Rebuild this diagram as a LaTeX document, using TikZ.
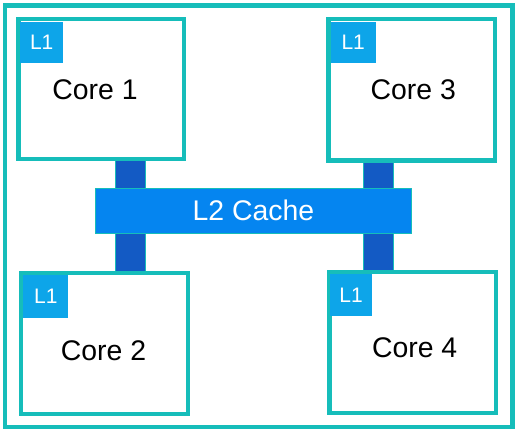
\documentclass[tikz,border=0pt]{standalone}
\usepackage{fontspec}
\setmainfont{Liberation Sans}
\definecolor{tealline}{HTML}{16BDBA}
\definecolor{lonec}{HTML}{0DA5E9}
\definecolor{ltwoc}{HTML}{0585F0}
\definecolor{linkc}{HTML}{135AC4}
\begin{document}
\begin{tikzpicture}[x=1pt,y=-1pt,
  frame/.style={draw=tealline, line width=4.3pt, inner sep=0pt, outer sep=0pt},
  corebox/.style={draw=tealline, line width=4.3pt, fill=white, inner sep=0pt, outer sep=0pt},
  lone/.style={fill=lonec, text=white, inner sep=0pt, outer sep=0pt, font=\fontsize{21}{21}\selectfont},
  ltwo/.style={fill=ltwoc, draw=tealline, line width=0.8pt, text=white, inner sep=0pt, outer sep=0pt, font=\fontsize{28.4}{28.4}\selectfont},
  coretext/.style={inner sep=0pt, font=\fontsize{28.4}{28.4}\selectfont},
  link/.style={fill=linkc, draw=tealline, line width=0.8pt}]
\useasboundingbox (0,0) rectangle (518,434);
\node[frame, minimum width=507.2pt, minimum height=421.7pt] (chip) at (258.9,216.2) {};
% core boxes (geometry)
\coordinate (core1pos) at (101.2,89.1);
\coordinate (core3pos) at (411.6,89.85);
\coordinate (core2pos) at (104.55,343.5);
\coordinate (core4pos) at (412.75,342.5);
\path (core1pos) node[minimum width=165.7pt, minimum height=140pt, inner sep=0pt, outer sep=0pt] (c1) {};
\path (core3pos) node[minimum width=166.2pt, minimum height=141.3pt, inner sep=0pt, outer sep=0pt] (c3) {};
\path (core2pos) node[minimum width=166.5pt, minimum height=140.4pt, inner sep=0pt, outer sep=0pt] (c2) {};
\path (core4pos) node[minimum width=166.5pt, minimum height=141pt, inner sep=0pt, outer sep=0pt] (c4) {};
% connectors
\coordinate (lxa) at (115.7,0);
\coordinate (lxb) at (145,0);
\coordinate (rxa) at (363.3,0);
\coordinate (rxb) at (393.3,0);
\draw[link] (c1.south -| lxa) rectangle (c2.north -| lxb);
\draw[link] (c3.south -| rxa) rectangle (c4.north -| rxb);
% L2 cache
\node[ltwo, minimum width=316.7pt, minimum height=45pt] (l2) at (253.35,210.8) {L2 Cache};
% cores drawn on top
\node[corebox, minimum width=165.7pt, minimum height=140pt] at (c1.center) (c1b) {};
\node[corebox, minimum width=166.2pt, minimum height=141.3pt] at (c3.center) (c3b) {};
\node[corebox, minimum width=166.5pt, minimum height=140.4pt] at (c2.center) (c2b) {};
\node[corebox, minimum width=166.5pt, minimum height=141pt] at (c4.center) (c4b) {};
% L1 caches
\node[lone, minimum width=43pt, minimum height=41pt] (l1a) at (41.7,42.2) {L1};
\node[lone, minimum width=45pt, minimum height=41.6pt] (l1c) at (353.2,42.5) {L1};
\node[lone, minimum width=45pt, minimum height=42.7pt] (l1b) at (45.8,296.3) {L1};
\node[lone, minimum width=42.6pt, minimum height=41.7pt] (l1d) at (351,294.8) {L1};
% labels
\node[coretext] (t1) at (95,90) {Core 1};
\node[coretext] (t3) at (413.3,90) {Core 3};
\node[coretext] (t2) at (103.5,350.7) {Core 2};
\node[coretext] (t4) at (414.7,347.3) {Core 4};
\end{tikzpicture}
\end{document}
